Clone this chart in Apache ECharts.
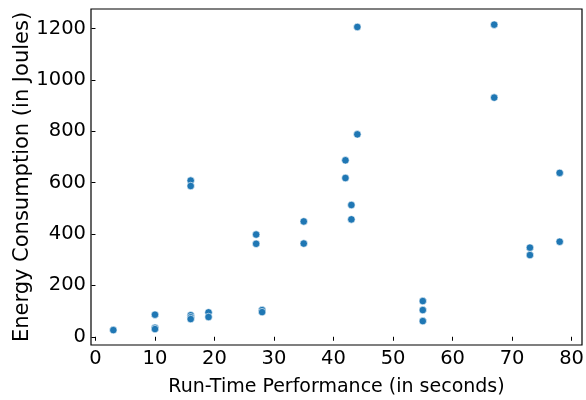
<!DOCTYPE html>
<html>
<head>
<meta charset="utf-8">
<script src="https://cdn.jsdelivr.net/npm/echarts@6/dist/echarts.min.js"></script>
<style>
  html, body { margin: 0; padding: 0; background: #fff; }
  #main { width: 586px; height: 400px; }
</style>
</head>
<body>
<div id="main"></div>
<script>
// run-time (s) and energy (J) for each measurement
const runTime = [3, 10, 10, 10, 16, 16, 16, 16, 16, 19, 19, 27, 27, 28, 28,
  35, 35, 42, 42, 43, 43, 44, 44, 55, 55, 55, 67, 67, 73, 73, 78, 78]
const energy = [26, 86, 35, 30, 608, 587, 84, 76, 69, 95, 77, 398, 362, 104, 96,
  449, 363, 687, 618, 513, 457, 1206, 788, 139, 104, 61, 1215, 931, 347, 318, 638, 370]
const xTicks = [0, 10, 20, 30, 40, 50, 60, 70, 80]
const yTicks = [0, 200, 400, 600, 800, 1000, 1200]

const points = runTime.map((x, i) => [x, energy[i]])

let myChart = echarts.init(document.getElementById('main'))
const font = 'DejaVu Sans'
myChart.setOption({
  animation: false,
  grid: {
    left: 91,
    right: 4,
    top: 9,
    bottom: 55,
    outerBoundsMode: 'none',
    show: true,
    borderColor: '#000',
    borderWidth: 1.2
  },
  xAxis: {
    type: 'value',
    min: -0.75,
    max: 81.75,
    name: 'Run-Time Performance (in seconds)',
    nameLocation: 'middle',
    nameGap: 33,
    nameMoveOverlap: false,
    nameTextStyle: { color: '#000', fontSize: 19, fontFamily: font },
    axisLine: { show: false },
    splitLine: { show: false },
    axisTick: { show: true, length: 4, lineStyle: { color: '#000' }, customValues: xTicks },
    axisLabel: { color: '#000', fontSize: 19.5, fontFamily: font, margin: 4, customValues: xTicks }
  },
  yAxis: {
    type: 'value',
    min: -32,
    max: 1276,
    name: 'Energy Consumption (in Joules)',
    nameLocation: 'middle',
    nameGap: 58,
    nameMoveOverlap: false,
    nameTextStyle: { color: '#000', fontSize: 21, fontFamily: font },
    axisLine: { show: false },
    splitLine: { show: false },
    axisTick: { show: true, length: 4, lineStyle: { color: '#000' }, customValues: yTicks },
    axisLabel: {
      color: '#000', fontSize: 19.5, fontFamily: font, margin: 5, customValues: yTicks,
      formatter: v => String(v)
    }
  },
  series: [
    {
      type: 'scatter',
      data: points,
      symbolSize: 7.5,
      itemStyle: { color: '#1f77b4', borderColor: '#fff', borderWidth: 0.6, opacity: 1 }
    }
  ]
})
</script>
</body>
</html>
